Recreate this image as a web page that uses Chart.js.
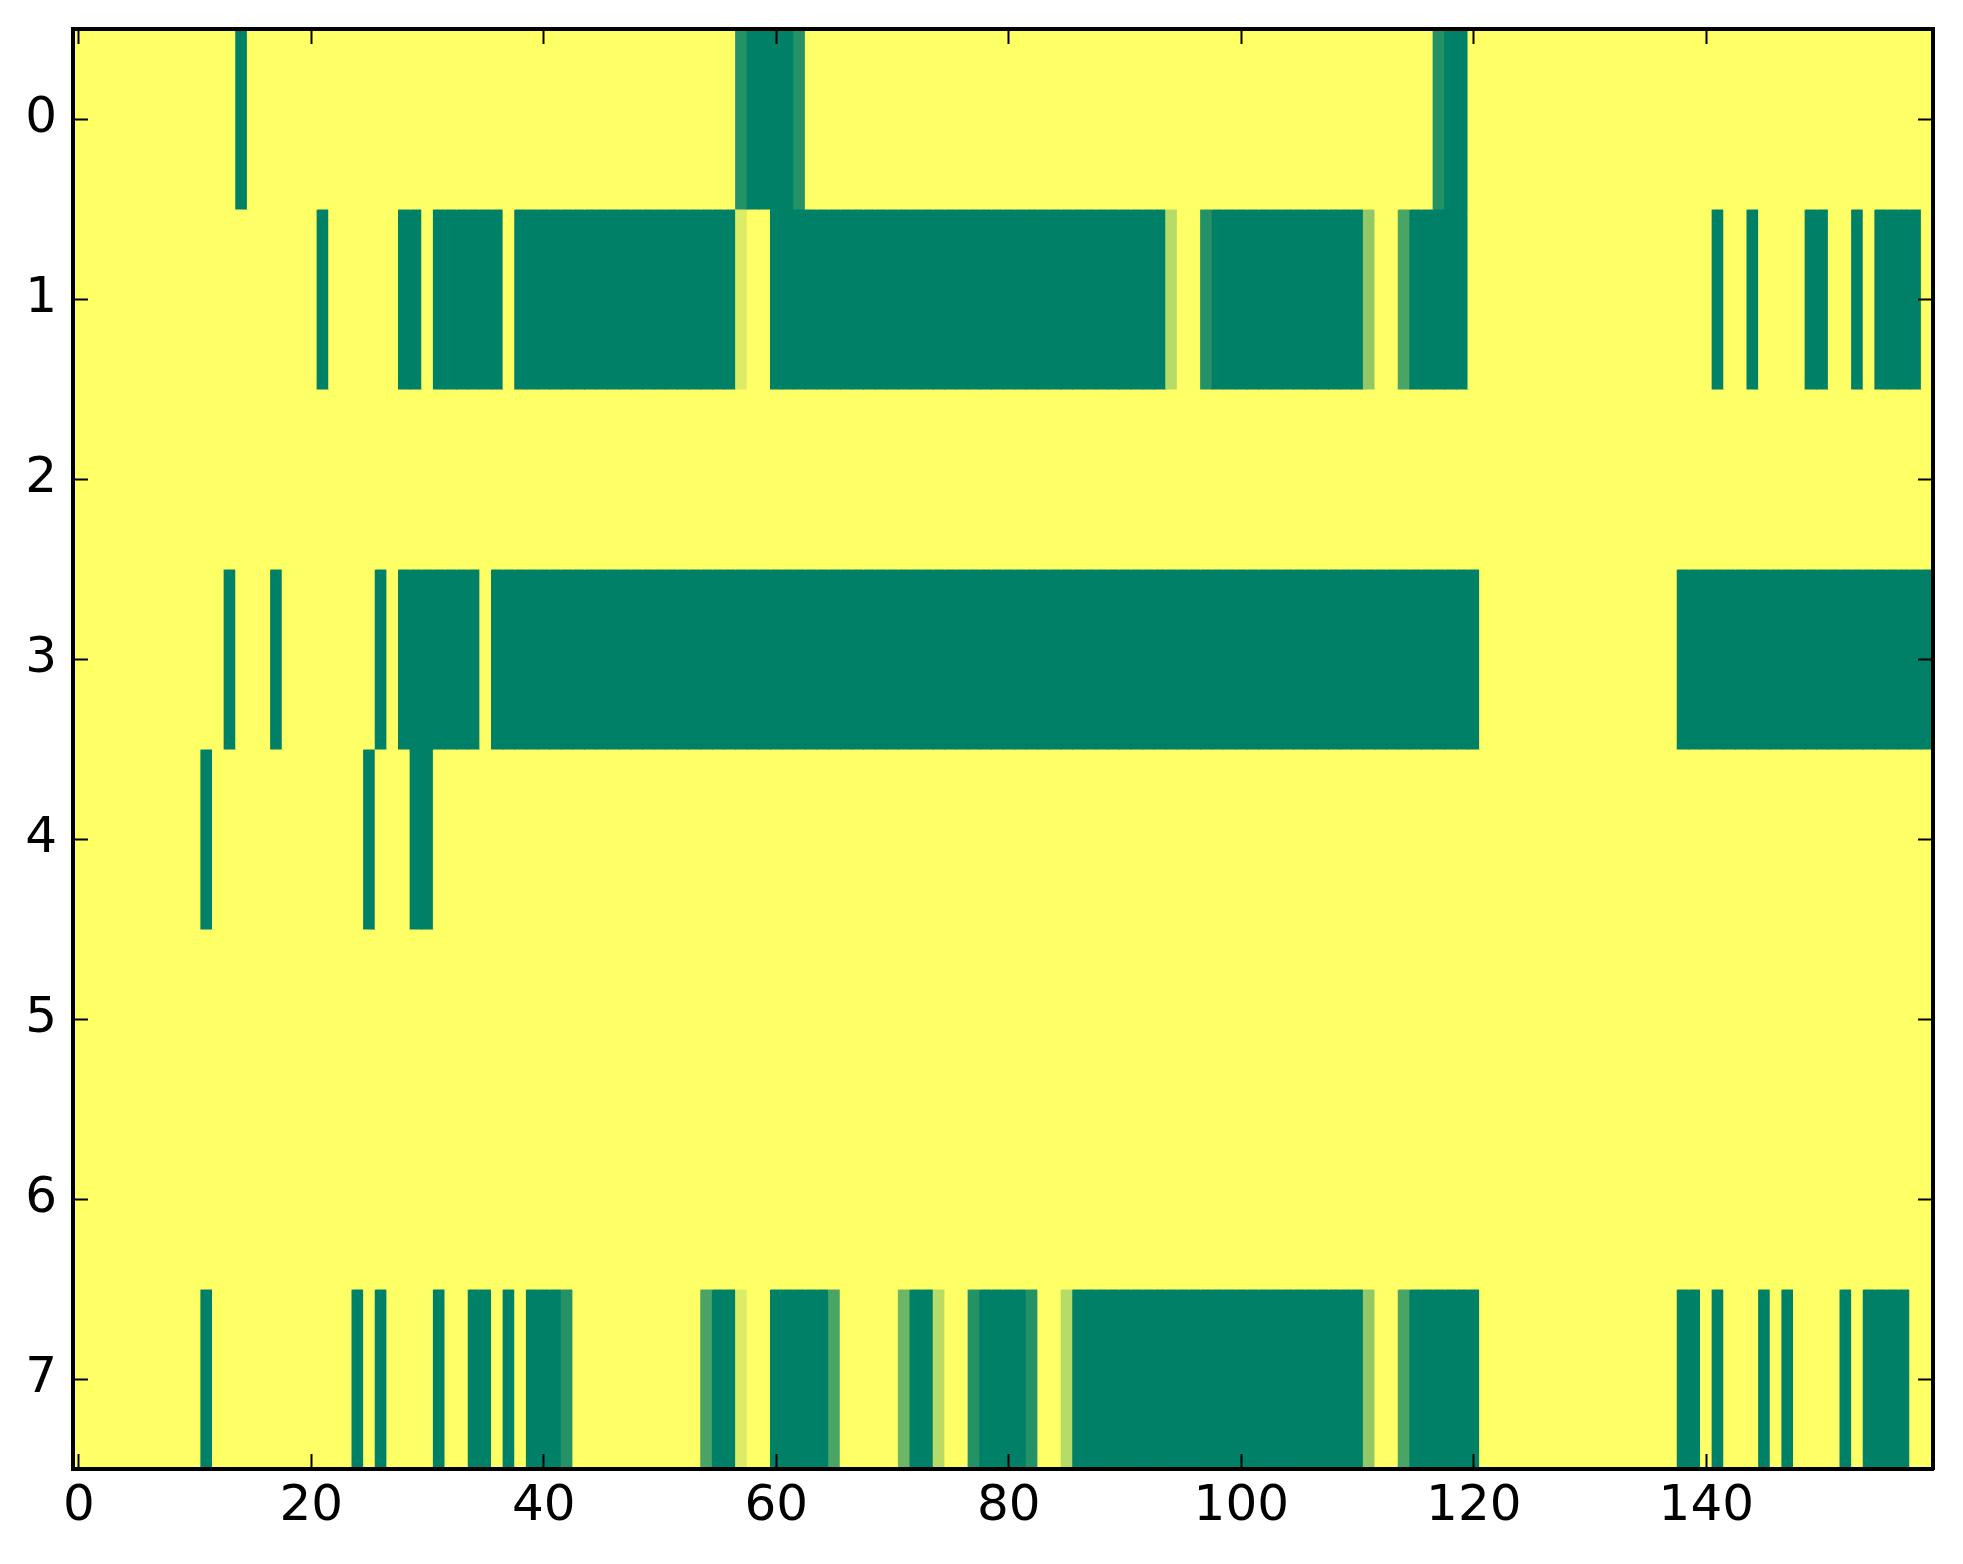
<!DOCTYPE html>
<html>
<head>
<meta charset="utf-8">
<script src="https://cdn.jsdelivr.net/npm/chart.js@4/dist/chart.umd.min.js"></script>
<style>
  html, body { margin: 0; padding: 0; background: #fff; }
  #heatmap { display: block; }
</style>
</head>
<body>
<canvas id="heatmap" width="1963" height="1564"></canvas>
<script>
// One string per row, one digit per column (groups of 10 for reading).
// Digit = cell value in sevenths: 0 -> 0.0 (dark green) ... 7 -> 1.0 (yellow)
const row0 = '7777777777 7777077777 7777777777 7777777777 7777777777 7777777100 0017777777 7777777777 7777777777 7777777777 7777777777 7777777100 7777777777 7777777777 7777777777 7777777777';
const row1 = '7777777777 7777777777 7077777700 7000000700 0000000000 0000000677 0000000000 0000000000 0000000000 0000577100 0000000000 0477200000 7777777777 7777777777 7077077770 0770700007';
const row2 = '7777777777 7777777777 7777777777 7777777777 7777777777 7777777777 7777777777 7777777777 7777777777 7777777777 7777777777 7777777777 7777777777 7777777777 7777777777 7777777777';
const row3 = '7777777777 7770777077 7777770700 0000070000 0000000000 0000000000 0000000000 0000000000 0000000000 0000000000 0000000000 0000000000 0777777777 7777777700 0000000000 0000000000';
const row4 = '7777777777 7077777777 7777707770 0777777777 7777777777 7777777777 7777777777 7777777777 7777777777 7777777777 7777777777 7777777777 7777777777 7777777777 7777777777 7777777777';
const row5 = '7777777777 7777777777 7777777777 7777777777 7777777777 7777777777 7777777777 7777777777 7777777777 7777777777 7777777777 7777777777 7777777777 7777777777 7777777777 7777777777';
const row6 = '7777777777 7777777777 7777777777 7777777777 7777777777 7777777777 7777777777 7777777777 7777777777 7777777777 7777777777 7777777777 7777777777 7777777777 7777777777 7777777777';
const row7 = '7777777777 7077777777 7777070777 7077007070 0017777777 7777200677 0000027777 7300577100 0017750000 0000000000 0000000000 0477200000 0777777777 7777777700 7077707077 7707000077';

const rowStrings = [row0, row1, row2, row3, row4, row5, row6, row7];
const xTicks = [0, 20, 40, 60, 80, 100, 120, 140];
const yTicks = [0, 1, 2, 3, 4, 5, 6, 7];

const nCols = 160;
const nRows = rowStrings.length;

// matplotlib "summer" colormap
function summer(v) {
    return 'rgb(' + Math.round(255 * v) + ',' + Math.round(255 * (0.5 + v / 2)) + ',102)';
}

const values = rowStrings.map(s => s.replace(/ /g, '').split('').map(d => Number(d) / 7));

const datasets = values.map((row, r) => ({
    label: 'row ' + r,
    data: row.map((v, c) => ({ x: c, y: [r - 0.5, r + 0.5] })),
    backgroundColor: row.map(v => summer(v)),
    borderWidth: 0,
    barPercentage: 1,
    categoryPercentage: 1,
    grouped: false,
    inflateAmount: 0.5,
    clip: 0
}));

const tickFont = { family: 'DejaVu Sans', size: 50 };

function frameGrid() {
    return {
        offset: false,
        drawOnChartArea: false,
        drawTicks: true,
        tickLength: -15,
        tickColor: '#000',
        tickWidth: 2,
        z: 1
    };
}
const frameBorder = { display: true, color: '#000', width: 4, z: 1 };

// fixed axis box sizes, no label overflow padding
function fixSize(prop, size) {
    return s => {
        s[prop] = size;
        s.paddingTop = 0;
        s.paddingBottom = 0;
        s.paddingLeft = 0;
        s.paddingRight = 0;
    };
}

new Chart(document.getElementById('heatmap'), {
    type: 'bar',
    data: { datasets: datasets },
    options: {
        responsive: false,
        devicePixelRatio: 1,
        animation: false,
        layout: { padding: 0 },
        plugins: {
            legend: { display: false },
            tooltip: { enabled: false }
        },
        scales: {
            x: {
                type: 'linear',
                position: 'bottom',
                min: -0.5,
                max: nCols - 0.5,
                offset: false,
                afterBuildTicks: s => { s.ticks = xTicks.map(v => ({ value: v })); },
                afterFit: fixSize('height', 95),
                grid: frameGrid(),
                border: frameBorder,
                ticks: {
                    color: '#000',
                    font: tickFont,
                    padding: 23,
                    maxRotation: 0,
                    autoSkip: false,
                    callback: v => String(v)
                }
            },
            x2: {
                type: 'linear',
                position: 'top',
                min: -0.5,
                max: nCols - 0.5,
                offset: false,
                afterBuildTicks: s => { s.ticks = xTicks.map(v => ({ value: v })); },
                afterFit: fixSize('height', 29),
                grid: frameGrid(),
                border: frameBorder,
                ticks: { display: false }
            },
            y: {
                type: 'linear',
                position: 'left',
                reverse: true,
                min: -0.5,
                max: nRows - 0.5,
                afterBuildTicks: s => { s.ticks = yTicks.map(v => ({ value: v })); },
                afterFit: fixSize('width', 73),
                grid: frameGrid(),
                border: frameBorder,
                ticks: {
                    color: '#000',
                    font: tickFont,
                    padding: 31,
                    autoSkip: false,
                    callback: v => String(v)
                }
            },
            y2: {
                type: 'linear',
                position: 'right',
                reverse: true,
                min: -0.5,
                max: nRows - 0.5,
                afterBuildTicks: s => { s.ticks = yTicks.map(v => ({ value: v })); },
                afterFit: fixSize('width', 30),
                grid: frameGrid(),
                border: frameBorder,
                ticks: { display: false }
            }
        }
    }
});
</script>
</body>
</html>
